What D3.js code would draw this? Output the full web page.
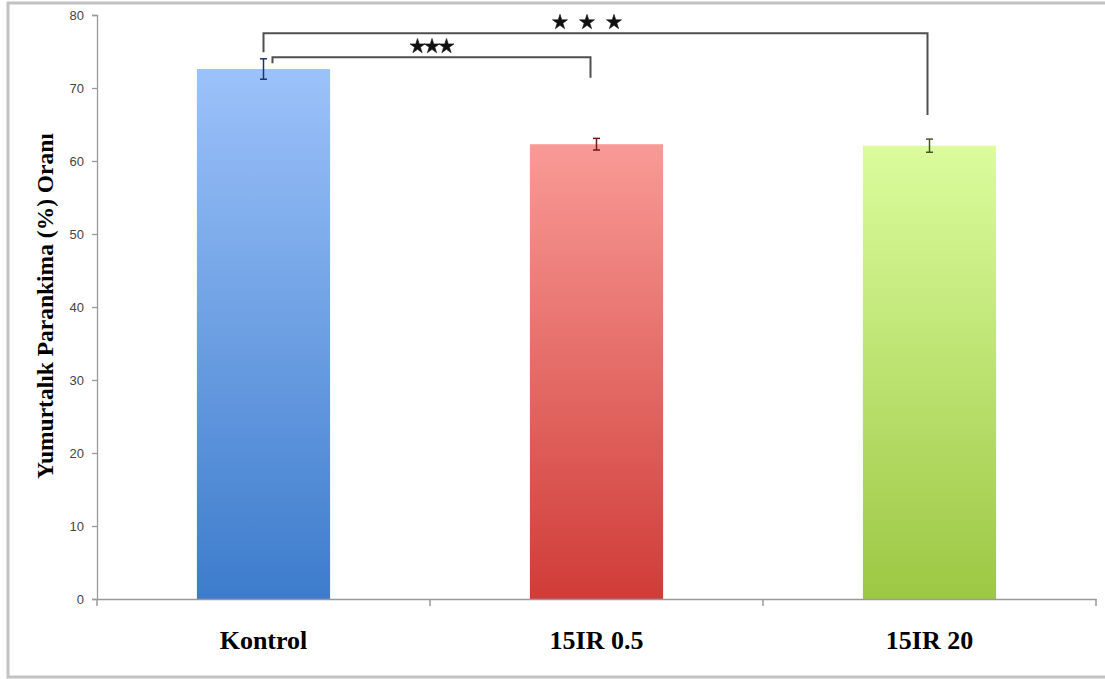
<!DOCTYPE html>
<html>
<head>
<meta charset="utf-8">
<script src="https://cdn.jsdelivr.net/npm/d3@7"></script>
<style>
  body { margin: 0; background: #fff; }
  svg { display: block; }
  .tick text { fill: #444; }
</style>
</head>
<body>
<div id="chart"></div>
<script>
(function() {
    var categories = ["Kontrol", "15IR 0.5", "15IR 20"];
    var values = [72.6, 62.3, 62.1];
    var errors = [1.4, 0.8, 0.9];
    var yTicks = [0, 10, 20, 30, 40, 50, 60, 70, 80];
    var yTitle = "Yumurtalık Parankima (%) Oranı";
    var comparisons = [
        {from: 0, to: 1, stars: 3},
        {from: 0, to: 2, stars: 3}
    ];
    var topColors = ["#9cc2fa", "#f99a96", "#dcfc9d"];
    var bottomColors = ["#3d7ccc", "#d03c38", "#9cc844"];
    var errColors = ["#1d3566", "#6e1c1a", "#46591f"];

    var W = 1105, H = 679;
    var left = 97, right = 1096, top = 15, bottom = 599;

    var svg = d3.select("#chart").append("svg")
        .attr("width", W)
        .attr("height", H);

    // frame (right side is cut off in the original)
    svg.append("rect")
        .attr("x", 8).attr("y", 3)
        .attr("width", W).attr("height", 674)
        .attr("fill", "none")
        .attr("stroke", "#c2c2c2")
        .attr("stroke-width", 3);

    var x = d3.scaleBand()
        .domain(categories)
        .range([left, right])
        .paddingInner(0.6)
        .paddingOuter(0.3);

    var y = d3.scaleLinear()
        .domain([0, 80])
        .range([bottom, top]);

    var defs = svg.append("defs");
    categories.forEach(function(c, i) {
        var g = defs.append("linearGradient")
            .attr("id", "grad" + i)
            .attr("x1", 0).attr("y1", 0).attr("x2", 0).attr("y2", 1);
        g.append("stop").attr("offset", "0%").attr("stop-color", topColors[i]);
        g.append("stop").attr("offset", "100%").attr("stop-color", bottomColors[i]);
    });

    svg.selectAll(".bar")
        .data(values)
        .enter()
        .append("rect")
        .attr("class", "bar")
        .attr("x", (d, i) => x(categories[i]))
        .attr("width", x.bandwidth())
        .attr("y", d => y(d))
        .attr("height", d => bottom - y(d))
        .attr("fill", (d, i) => "url(#grad" + i + ")");

    // y axis
    var yAxis = svg.append("g")
        .attr("transform", "translate(" + left + ",0)")
        .call(d3.axisLeft(y).tickValues(yTicks).tickSize(5).tickPadding(8));
    yAxis.selectAll("text")
        .style("font-family", "'Liberation Sans', Arial, sans-serif")
        .style("font-size", "13px");
    yAxis.selectAll("line, path").attr("stroke", "#9a9a9a").attr("stroke-width", 1.3);

    // x axis: labels at band centres, ticks at band edges
    var xAxis = svg.append("g")
        .attr("transform", "translate(0," + bottom + ")")
        .call(d3.axisBottom(x).tickSize(0).tickPadding(32).tickSizeOuter(0));
    xAxis.select(".domain").attr("stroke", "#9a9a9a").attr("stroke-width", 1.5);
    xAxis.selectAll("text")
        .style("font-family", "'Liberation Serif', 'Times New Roman', serif")
        .style("font-size", "26px")
        .style("font-weight", "bold")
        .style("fill", "#000");

    var edges = d3.range(categories.length + 1).map(i => left + i * x.step());
    svg.selectAll(".edge")
        .data(edges)
        .enter()
        .append("line")
        .attr("class", "edge")
        .attr("x1", d => d).attr("x2", d => d)
        .attr("y1", bottom).attr("y2", bottom + 7)
        .attr("stroke", "#9a9a9a")
        .attr("stroke-width", 1.5);

    // error bars
    var eb = svg.selectAll(".err")
        .data(values)
        .enter()
        .append("g")
        .attr("class", "err")
        .attr("stroke", (d, i) => errColors[i])
        .attr("stroke-width", 1.5);
    eb.append("line")
        .attr("x1", (d, i) => x(categories[i]) + x.bandwidth() / 2)
        .attr("x2", (d, i) => x(categories[i]) + x.bandwidth() / 2)
        .attr("y1", (d, i) => y(d + errors[i]))
        .attr("y2", (d, i) => y(d - errors[i]));
    [1, -1].forEach(function(s) {
        eb.append("line")
            .attr("x1", (d, i) => x(categories[i]) + x.bandwidth() / 2 - 3.5)
            .attr("x2", (d, i) => x(categories[i]) + x.bandwidth() / 2 + 3.5)
            .attr("y1", (d, i) => y(d + s * errors[i]))
            .attr("y2", (d, i) => y(d + s * errors[i]));
    });

    // significance brackets
    var cx = i => x(categories[i]) + x.bandwidth() / 2;
    var brackets = [
        {level: 74.2, leftEnd: 73.4, rightEnd: 71.4, dl: 9, dr: -6, mid: 432, gap: 14.5},
        {level: 77.5, leftEnd: 74.9, rightEnd: 66.3, dl: 0, dr: -2, mid: 587, gap: 27}
    ];
    comparisons.forEach(function(c, k) {
        var b = brackets[k];
        var x1 = cx(c.from) + b.dl, x2 = cx(c.to) + b.dr;
        svg.append("path")
            .attr("d", "M" + x1 + "," + y(b.leftEnd) + "V" + y(b.level) + "H" + x2 + "V" + y(b.rightEnd))
            .attr("fill", "none")
            .attr("stroke", "#505050")
            .attr("stroke-width", 2);
        svg.selectAll(".star" + k)
            .data(d3.range(c.stars))
            .enter()
            .append("path")
            .attr("class", "star" + k)
            .attr("d", d3.symbol().type(d3.symbolStar).size(70))
            .attr("transform", j => "translate(" + (b.mid + (j - (c.stars - 1) / 2) * b.gap) + "," + (y(b.level) - 11) + ")")
            .attr("fill", "#111")
            .attr("stroke", "#111")
            .attr("stroke-width", 0.6)
            .attr("stroke-linejoin", "round");
    });

    // y title
    svg.append("text")
        .attr("transform", "translate(53,306) rotate(-90)")
        .attr("text-anchor", "middle")
        .style("font-family", "'Liberation Serif', 'Times New Roman', serif")
        .style("font-size", "23.5px")
        .style("font-weight", "bold")
        .text(yTitle);
})();
</script>
</body>
</html>
